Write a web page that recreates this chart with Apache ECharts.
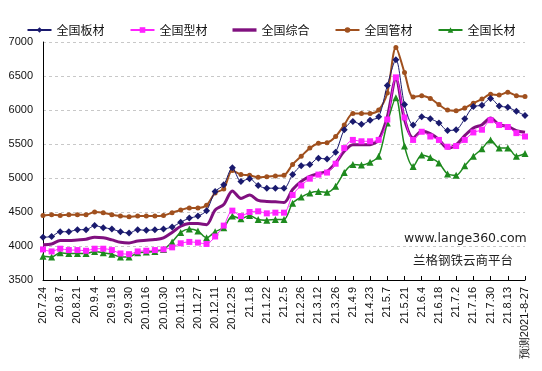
<!DOCTYPE html>
<html><head><meta charset="utf-8">
<script src="https://cdn.jsdelivr.net/npm/echarts@6/dist/echarts.min.js"></script>
<style>html,body{margin:0;padding:0;background:#fff}#c{width:542px;height:371px}</style>
</head><body><div id="c"></div>
<script>
const categories = ["20.7.24","20.7.31","20.8.7","20.8.14","20.8.21","20.8.28","20.9.4","20.9.11","20.9.18","20.9.25","20.9.30","20.10.9","20.10.16","20.10.23","20.10.30","20.11.6","20.11.13","20.11.20","20.11.27","20.12.4","20.12.11","20.12.18","20.12.25","21.1.1","21.1.8","21.1.15","21.1.22","21.1.29","21.2.5","21.2.19","21.2.26","21.3.5","21.3.12","21.3.19","21.3.26","21.4.2","21.4.9","21.4.16","21.4.23","21.4.30","21.5.7","21.5.14","21.5.21","21.5.28","21.6.4","21.6.11","21.6.18","21.6.25","21.7.2","21.7.9","21.7.16","21.7.23","21.7.30","21.8.6","21.8.13","21.8.20","预测2021-8-27"];
const banCai = [4130,4140,4210,4210,4240,4240,4300,4270,4250,4210,4190,4240,4230,4240,4250,4280,4350,4410,4440,4520,4800,4900,5150,4950,4990,4890,4850,4850,4850,5050,5180,5200,5290,5280,5380,5710,5830,5790,5850,5900,6360,6740,6080,5780,5900,5870,5810,5700,5710,5870,6050,6070,6170,6060,6040,5980,5920];
const xingCai = [3950,3920,3960,3940,3940,3930,3960,3960,3940,3890,3880,3920,3930,3940,3950,3980,4040,4060,4050,4030,4140,4300,4520,4440,4500,4510,4480,4490,4490,4750,4890,4990,5050,5080,5210,5440,5560,5540,5540,5560,5860,6480,5890,5560,5680,5610,5560,5460,5470,5560,5670,5710,5850,5780,5750,5660,5610];
const zongHe = [4020,4030,4080,4080,4090,4100,4130,4120,4090,4055,4045,4074,4084,4094,4120,4200,4290,4330,4330,4314,4530,4610,4810,4700,4750,4670,4655,4650,4640,4830,4950,5025,5064,5098,5221,5392,5490,5490,5490,5564,5900,6460,5860,5590,5686,5652,5564,5441,5490,5623,5736,5784,5882,5784,5760,5697,5672];
const guanCai = [4450,4460,4450,4460,4460,4460,4500,4490,4460,4440,4430,4440,4440,4440,4450,4490,4530,4560,4560,4600,4780,4840,5110,5050,5040,5010,5020,5030,5040,5200,5320,5440,5510,5520,5610,5780,5950,5950,5950,6000,6250,6920,6550,6190,6210,6170,6080,6000,5990,6030,6100,6160,6230,6220,6260,6210,6200];
const changCai = [3850,3840,3900,3890,3890,3890,3920,3900,3880,3840,3840,3900,3910,3920,3950,4060,4200,4250,4220,4120,4210,4270,4440,4400,4450,4390,4380,4390,4390,4630,4720,4780,4800,4790,4880,5080,5200,5190,5230,5320,5810,6180,5470,5170,5340,5300,5220,5060,5040,5180,5320,5430,5560,5440,5440,5320,5360];
const seriesNames = ["全国板材","全国型材","全国综合","全国管材","全国长材"];

const chart = echarts.init(document.getElementById('c'));
const latin = "'Liberation Sans', Arial, sans-serif";
const cjk = "'Noto Sans CJK SC', sans-serif";
function mk(name, data, color, width, symbol, size, z) {
  return {name, type:'line', data, smooth:0.3, symbol, symbolSize:size,
    showSymbol: symbol!=='none', showAllSymbol:true,
    lineStyle:{color, width}, itemStyle:{color}, z, animation:false};
}
chart.setOption({
  animation:false,
  backgroundColor:'#fff',
  grid:{left:43, right:17, top:42, bottom:91, containLabel:false},
  legend:{top:19, left:'center', itemGap:25, itemWidth:24, itemHeight:7,
    textStyle:{fontFamily:cjk, fontSize:12, color:'#111'},
    data:[
      {name:seriesNames[0]},
      {name:seriesNames[1]},
      {name:seriesNames[2], icon:'path://M0,0 L24,0 L24,3.4 L0,3.4 Z'},
      {name:seriesNames[3]},
      {name:seriesNames[4]}
    ]},
  xAxis:{type:'category', data:categories, boundaryGap:false,
    axisLine:{lineStyle:{color:'#000', width:1}},
    axisTick:{inside:true, length:4, interval:1, lineStyle:{color:'#000'}},
    axisLabel:{interval:1, rotate:90, margin:7, fontFamily:latin, fontSize:11, color:'#111'},
    splitLine:{show:false}},
  yAxis:{type:'value', min:3500, max:7000, interval:500,
    axisLine:{show:true, lineStyle:{color:'#000'}},
    axisTick:{show:false},
    axisLabel:{fontFamily:latin, fontSize:11, color:'#111', margin:10, formatter:(v)=>String(v)},
    splitLine:{lineStyle:{color:'#c8c8c8', type:[3,3], width:1}}},
  graphic:[
    {type:'text', left:404, top:232, style:{text:'www.lange360.com', fontFamily:"'DejaVu Sans', sans-serif", fontSize:12.5, fill:'#222'}},
    {type:'text', left:413, top:254, style:{text:'兰格钢铁云商平台', fontFamily:cjk, fontSize:12.5, fill:'#222'}}
  ],
  series:[
    mk(seriesNames[0], banCai, '#1a1a6e', 1, 'diamond', 7, 8),
    mk(seriesNames[1], xingCai, '#ff22ff', 1, 'rect', 6, 7),
    mk(seriesNames[2], zongHe, '#80107f', 3, 'none', 0, 6),
    mk(seriesNames[3], guanCai, '#a0501e', 2, 'circle', 5, 3),
    mk(seriesNames[4], changCai, '#1e8a1e', 1.5, 'triangle', 7, 2)
  ]
});
</script></body></html>
